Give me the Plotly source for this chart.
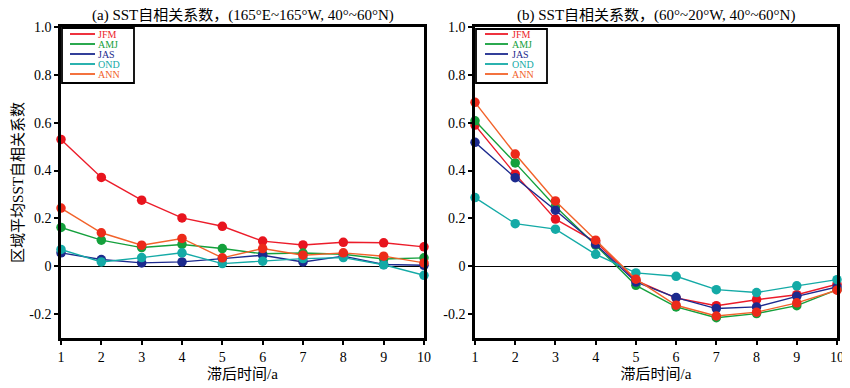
import plotly.graph_objects as go

lags = [1, 2, 3, 4, 5, 6, 7, 8, 9, 10]
series_names = ["JFM", "AMJ", "JAS", "OND", "ANN"]

# Panel (a): 165°E~165°W, 40°~60°N
a_JFM = [0.53, 0.371, 0.276, 0.202, 0.167, 0.105, 0.089, 0.100, 0.098, 0.081]
a_AMJ = [0.162, 0.109, 0.078, 0.091, 0.074, 0.052, 0.055, 0.050, 0.030, 0.035]
a_JAS = [0.056, 0.028, 0.014, 0.018, 0.032, 0.046, 0.018, 0.042, 0.007, 0.004]
a_OND = [0.070, 0.018, 0.036, 0.056, 0.011, 0.021, 0.032, 0.036, 0.006, -0.038]
a_ANN = [0.243, 0.140, 0.088, 0.116, 0.035, 0.074, 0.046, 0.056, 0.042, 0.014]

# Panel (b): 60°~20°W, 40°~60°N
b_JFM = [0.590, 0.385, 0.197, 0.102, -0.059, -0.133, -0.165, -0.140, -0.119, -0.075]
b_AMJ = [0.608, 0.432, 0.250, 0.088, -0.080, -0.170, -0.215, -0.198, -0.165, -0.098]
b_JAS = [0.518, 0.370, 0.234, 0.092, -0.066, -0.131, -0.177, -0.170, -0.126, -0.087]
b_OND = [0.287, 0.178, 0.155, 0.050, -0.028, -0.042, -0.098, -0.110, -0.082, -0.056]
b_ANN = [0.685, 0.469, 0.273, 0.109, -0.054, -0.163, -0.208, -0.192, -0.153, -0.100]

y_tickvals = [-0.2, 0, 0.2, 0.4, 0.6, 0.8, 1.0]
y_ticktext = ["-0.2", "0", "0.2", "0.4", "0.6", "0.8", "1.0"]
x_ticktext = ["1", "2", "3", "4", "5", "6", "7", "8", "9", "10"]

title_a = "(a) SST自相关系数，(165°E~165°W, 40°~60°N)"
title_b = "(b) SST自相关系数，(60°~20°W, 40°~60°N)"
ylabel = "区域平均SST自相关系数"
xlabel = "滞后时间/a"

line_colors = {"JFM": "#ec1c2a", "AMJ": "#14a03c", "JAS": "#1c2a8e", "OND": "#14aaa6", "ANN": "#f2622a"}
marker_colors = {"JFM": "#e8141e", "AMJ": "#14a03c", "JAS": "#1c2a8e", "OND": "#14aaa6", "ANN": "#ec2a1a"}

FONT = "Liberation Serif, Times New Roman, Noto Sans CJK SC, serif"

# The page body has an 8px margin, so screen = div + 8.
OFF = 8
W, H = 850, 388
SCR_L, SCR_R, SCR_T, SCR_B = 61, 837, 27, 338   # desired plot area on screen
ML, MT = SCR_L - OFF, SCR_T - OFF
MR, MB = W - (SCR_R - OFF), H - (SCR_B - OFF)
PW, PH = W - ML - MR, H - MT - MB


def px(xs):
    return (xs - SCR_L) / PW


def py(ys):
    return (SCR_B - ys) / PH


fig = go.Figure()

panels = [
    ("x", "y", [a_JFM, a_AMJ, a_JAS, a_OND, a_ANN]),
    ("x2", "y2", [b_JFM, b_AMJ, b_JAS, b_OND, b_ANN]),
]
for xa, ya, data in panels:
    for name, vals in zip(series_names, data):
        fig.add_trace(go.Scatter(
            x=lags, y=vals, xaxis=xa, yaxis=ya, mode="lines+markers",
            line=dict(color=line_colors[name], width=1.4),
            marker=dict(color=marker_colors[name], size=9.5),
            showlegend=False, name=name, cliponaxis=False,
        ))

axis_common = dict(
    showline=True, linecolor="black", linewidth=2.5, mirror=True,
    ticks="outside", ticklen=4, tickwidth=2, tickcolor="black",
    showgrid=False, tickfont=dict(family=FONT, size=14), automargin=False,
)
xaxis_cfg = dict(range=[1, 10], tickvals=lags, ticktext=x_ticktext, zeroline=False,
                 title=dict(text=xlabel, font=dict(family=FONT, size=15), standoff=5),
                 **axis_common)
yaxis_cfg = dict(range=[-0.3, 1.0], tickvals=y_tickvals, ticktext=y_ticktext,
                 zeroline=True, zerolinecolor="black", zerolinewidth=1,
                 **axis_common)

fig.update_layout(
    width=W, height=H,
    margin=dict(l=ML, r=MR, t=MT, b=MB),
    plot_bgcolor="white", paper_bgcolor="white",
    font=dict(family=FONT, size=14, color="black"),
    showlegend=False,
    xaxis=dict(domain=[0, px(424)], anchor="y", **xaxis_cfg),
    xaxis2=dict(domain=[px(475), 1.0], anchor="y2", **xaxis_cfg),
    yaxis=dict(domain=[0, 1], anchor="x",
               title=dict(text=ylabel, font=dict(family=FONT, size=15), standoff=3),
               **yaxis_cfg),
    yaxis2=dict(domain=[0, 1], anchor="x2", **yaxis_cfg),
)

fig.add_annotation(text=title_a, x=(px(61) + px(424)) / 2, y=1.0, xref="paper", yref="paper",
                   xanchor="center", yanchor="bottom", yshift=1, showarrow=False,
                   font=dict(family=FONT, size=15))
fig.add_annotation(text=title_b, x=(px(475) + px(837)) / 2, y=1.0, xref="paper", yref="paper",
                   xanchor="center", yanchor="bottom", yshift=1, showarrow=False,
                   font=dict(family=FONT, size=15))

# Manual compact legends (box, line samples, coloured labels), screen pixel positions
row_y = [34.0, 44.0, 54.0, 64.0, 74.0]
legend_boxes = [
    dict(x0=62, x1=134, y0=28, y1=83, l0=70, l1=95, tx=97),
    dict(x0=476, x1=547, y0=29, y1=83, l0=485, l1=508, tx=511),
]
for b in legend_boxes:
    fig.add_shape(type="rect", xref="paper", yref="paper",
                  x0=px(b["x0"]), x1=px(b["x1"]), y0=py(b["y1"]), y1=py(b["y0"]),
                  line=dict(color="black", width=1.8), fillcolor="white", layer="above")
    for name, yy in zip(series_names, row_y):
        fig.add_shape(type="line", xref="paper", yref="paper",
                      x0=px(b["l0"]), x1=px(b["l1"]), y0=py(yy), y1=py(yy),
                      line=dict(color=line_colors[name], width=1.8), layer="above")
        fig.add_annotation(text=name, x=px(b["tx"]), y=py(yy), xref="paper", yref="paper",
                           xanchor="left", yanchor="middle", showarrow=False, borderpad=0,
                           font=dict(family=FONT, size=10, color=line_colors[name]))

fig.write_html("out.html")
